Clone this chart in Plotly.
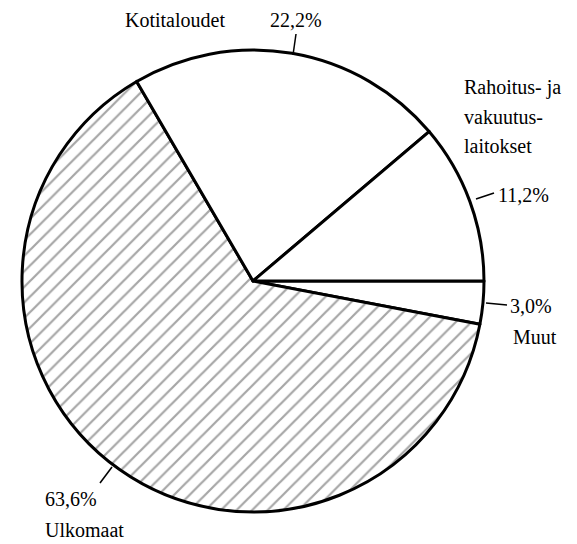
import plotly.graph_objects as go

# Data (slice order chosen so the pie starts at 3 o'clock, clockwise)
labels = ["Muut", "Ulkomaat", "Kotitaloudet", "Rahoitus- ja vakuutuslaitokset"]
values = [3.0, 63.6, 22.2, 11.2]
value_text = ["3,0%", "63,6%", "22,2%", "11,2%"]

W, H = 577, 544
FONT = "Liberation Serif"


def px(x):
    return x / W


def py(y):
    return 1 - y / H


patterns = ["", "/", "", ""]

fig = go.Figure(go.Pie(
    labels=labels,
    values=values,
    sort=False,
    direction="clockwise",
    rotation=90,
    textinfo="none",
    hoverinfo="label+percent",
    domain=dict(x=[px(22), px(484)], y=[py(512), py(50)]),
    marker=dict(
        colors=["white"] * 4,
        line=dict(color="black", width=3),
        pattern=dict(shape=patterns, fgcolor="black", bgcolor="white",
                     size=11, solidity=0.2, fgopacity=0.35),
    ),
    showlegend=False,
))

# Labels placed around the pie
notes = [
    (123, 20, "Kotitaloudet"),
    (268, 20, value_text[2]),
    (462, 88, "Rahoitus- ja"),
    (462, 117, "vakuutus-"),
    (462, 146, "laitokset"),
    (496, 195, value_text[3]),
    (508, 306, value_text[0]),
    (511, 337, labels[0]),
    (43, 499, value_text[1]),
    (43, 530, labels[1]),
]
for x, y, t in notes:
    fig.add_annotation(x=px(x), y=py(y), xref="paper", yref="paper", text=t,
                       showarrow=False, xanchor="left", yanchor="middle",
                       font=dict(family=FONT, size=20, color="black"))

# Small leader lines
leaders = [(296, 34, 293, 55), (476, 199, 494, 193),
           (486, 303, 507, 305), (100, 483, 112, 467)]
for x0, y0, x1, y1 in leaders:
    fig.add_shape(type="line", xref="paper", yref="paper",
                  x0=px(x0), y0=py(y0), x1=px(x1), y1=py(y1),
                  line=dict(color="black", width=1.5))

fig.update_layout(
    width=W, height=H,
    margin=dict(l=0, r=0, t=0, b=0),
    paper_bgcolor="white",
    plot_bgcolor="white",
)

# drop the default page margin so the figure sits at the window corner
fig.write_html("out.html", config={"displayModeBar": False},
               post_script="document.body.style.margin = '0';")
